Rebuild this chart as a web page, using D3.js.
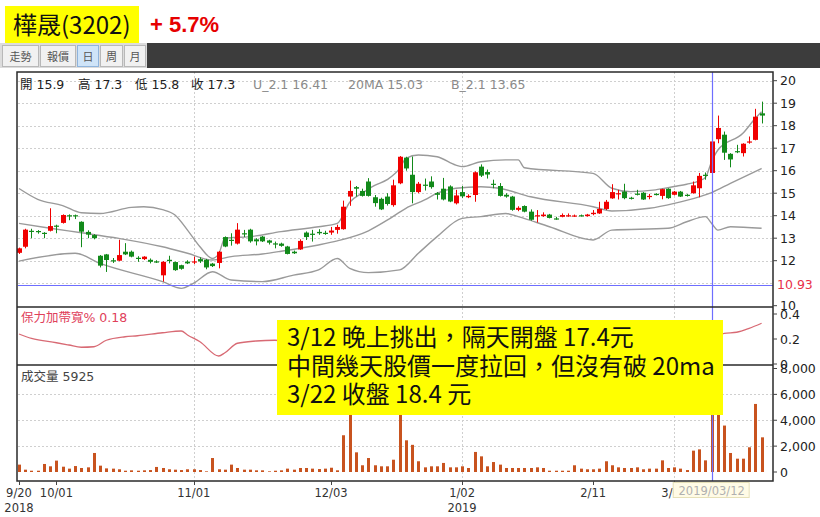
<!DOCTYPE html>
<html><head><meta charset="utf-8">
<script src="https://cdn.jsdelivr.net/npm/d3@7"></script>
<style>body{margin:0;background:#fff}svg{display:block}</style>
</head><body>
<svg id="c" width="820" height="517"></svg>
<script>
// ---------- DATA ----------
const dates = [
"2018/09/20","2018/09/21","2018/09/25","2018/09/26","2018/09/27","2018/09/28",
"2018/10/01","2018/10/02","2018/10/03","2018/10/04","2018/10/05","2018/10/08","2018/10/09","2018/10/11","2018/10/12","2018/10/15","2018/10/16","2018/10/17","2018/10/18","2018/10/19","2018/10/22","2018/10/23","2018/10/24","2018/10/25","2018/10/26","2018/10/29","2018/10/30","2018/10/31",
"2018/11/01","2018/11/02","2018/11/05","2018/11/06","2018/11/07","2018/11/08","2018/11/09","2018/11/12","2018/11/13","2018/11/14","2018/11/15","2018/11/16","2018/11/19","2018/11/20","2018/11/21","2018/11/22","2018/11/23","2018/11/26","2018/11/27","2018/11/28","2018/11/29","2018/11/30",
"2018/12/03","2018/12/04","2018/12/05","2018/12/06","2018/12/07","2018/12/10","2018/12/11","2018/12/12","2018/12/13","2018/12/14","2018/12/17","2018/12/18","2018/12/19","2018/12/20","2018/12/21","2018/12/22","2018/12/24","2018/12/25","2018/12/26","2018/12/27","2018/12/28",
"2019/01/02","2019/01/03","2019/01/04","2019/01/07","2019/01/08","2019/01/09","2019/01/10","2019/01/11","2019/01/14","2019/01/15","2019/01/16","2019/01/17","2019/01/18","2019/01/21","2019/01/22","2019/01/23","2019/01/24","2019/01/25","2019/01/28","2019/01/29","2019/01/30",
"2019/02/11","2019/02/12","2019/02/13","2019/02/14","2019/02/15","2019/02/18","2019/02/19","2019/02/20","2019/02/21","2019/02/22","2019/02/25","2019/02/26","2019/02/27",
"2019/03/04","2019/03/05","2019/03/06","2019/03/07","2019/03/08","2019/03/11","2019/03/12","2019/03/13","2019/03/14","2019/03/15","2019/03/18","2019/03/19","2019/03/20","2019/03/21","2019/03/22"];

const open = [12.35,12.62,13.33,13.32,13.24,13.33,13.56,13.68,14.02,14.02,13.73,13.28,13.14,12.22,12.28,12.02,12.0,12.4,12.4,12.13,
12.07,12.04,11.97,11.35,12.04,11.94,11.8,11.96,11.94,12.07,12.04,11.87,11.9,13.05,12.93,12.76,13.22,13.38,12.95,13.07,
12.9,12.77,12.76,12.63,12.4,12.5,13.25,13.2,13.28,13.24,13.25,13.37,13.4,14.85,15.27,15.1,15.52,14.82,14.75,14.85,
14.47,15.44,16.58,15.82,15.05,15.38,15.52,15.0,15.2,15.3,14.55,15.05,14.82,14.92,16.18,15.94,15.42,15.32,14.93,14.85,
14.26,14.43,14.18,13.98,13.98,14.05,13.88,13.95,13.98,13.97,14.02,13.98,14.07,14.1,14.3,14.77,14.97,15.07,14.8,14.98,
15.02,14.84,14.97,14.88,15.2,14.93,15.07,14.93,15.0,15.22,15.82,15.9,17.4,17.6,16.75,16.87,16.78,17.27,17.37,18.55];
const high = [12.58,13.42,13.42,13.36,13.27,14.33,13.6,14.06,14.06,14.05,13.75,13.35,13.18,12.25,12.3,12.12,12.93,12.78,12.45,12.2,
12.2,12.1,12.02,11.98,12.22,11.96,11.82,12.02,12.18,12.15,12.08,11.9,12.43,13.08,13.22,13.67,13.37,13.42,13.0,13.1,
12.93,12.85,12.8,12.66,12.45,12.95,13.3,13.37,13.4,13.33,13.5,13.6,14.67,15.56,15.32,15.2,15.67,14.92,14.8,15.0,
15.6,16.65,16.62,16.63,15.5,15.65,15.75,15.05,15.68,15.35,15.15,15.32,14.95,15.97,16.28,16.05,15.6,15.45,15.0,14.88,
14.42,14.46,14.28,14.25,14.15,14.08,13.95,14.1,14.1,14.05,14.05,14.08,14.25,14.62,14.7,15.4,15.15,15.42,14.84,15.15,
15.05,14.97,15.0,15.2,15.22,15.1,15.1,14.96,15.52,15.9,15.92,17.3,18.45,17.74,16.78,17.15,17.22,17.52,18.75,19.07];
const low = [12.3,12.55,13.0,13.2,13.0,13.3,13.22,13.65,13.8,13.85,12.6,13.0,12.95,11.7,11.5,11.9,11.98,12.25,12.15,11.95,
12.03,11.88,11.9,11.07,11.88,11.55,11.6,11.85,11.85,11.9,11.62,11.72,11.66,12.6,12.67,12.72,13.05,12.8,12.68,12.83,
12.72,12.55,12.62,12.28,12.3,12.48,12.92,12.85,13.15,13.15,13.15,13.2,13.38,14.44,14.85,14.85,14.85,14.4,14.25,14.45,
14.4,15.4,16.0,14.55,15.0,15.12,15.2,14.72,14.68,14.6,14.5,14.78,14.78,14.62,15.72,15.65,15.22,14.85,14.8,14.22,
14.2,14.15,13.78,13.7,13.95,13.88,13.82,13.93,13.95,13.95,13.96,13.96,14.02,14.08,14.25,14.75,14.72,14.73,14.72,14.9,
14.7,14.73,14.9,14.73,14.75,14.9,14.83,14.85,14.98,14.82,15.6,15.8,17.22,16.48,16.15,16.78,16.63,17.2,17.35,18.1];
const close = [12.55,13.38,13.29,13.29,13.2,13.54,13.52,14.03,13.98,13.98,13.29,13.16,13.0,11.78,12.03,11.99,12.25,12.28,12.18,12.1,
12.18,11.95,11.95,11.95,12.0,11.58,11.64,11.88,11.97,11.97,11.7,11.76,12.4,12.63,12.89,13.38,13.18,12.86,12.86,12.86,
12.8,12.73,12.66,12.3,12.33,12.88,13.05,13.17,13.22,13.21,13.34,13.5,14.4,15.1,15.2,14.88,14.88,14.56,14.28,14.52,
15.35,16.62,16.1,15.05,15.42,15.34,15.27,14.93,14.72,14.63,14.9,14.86,14.88,15.93,15.78,15.83,15.38,14.88,14.85,14.26,
14.35,14.18,13.82,14.02,14.05,13.9,13.85,14.03,14.02,14.01,13.98,14.05,14.13,14.3,14.62,15.05,15.0,14.78,14.75,14.94,
14.72,14.88,14.92,15.18,14.78,15.07,14.85,14.88,15.35,15.77,15.78,17.3,17.9,16.8,16.5,16.85,17.2,17.3,18.4,18.45];
const volume = [570,180,100,100,620,440,880,410,260,460,310,360,1470,490,280,260,210,100,130,100,
130,150,390,310,210,180,150,210,210,150,50,1080,210,180,570,310,180,180,130,130,
50,100,130,260,180,310,310,260,230,260,330,130,2840,5600,1520,520,1080,520,440,440,
950,5800,2450,2100,830,360,440,440,700,360,360,440,310,1550,1210,440,770,570,310,310,
310,310,310,360,310,100,100,100,100,520,260,210,210,260,830,520,360,310,310,360,
210,260,260,900,310,360,260,150,1650,1750,900,5925,5000,3590,1470,1030,1030,1910,5260,2680];

// Bollinger bands (2.1 sd) at these trading-day positions
const upperIdx = [0,3,7,10,13,18,20,23,25,27,29,31,32,33,37,42,48,51,53,55,57,59,61,62,64,67,70,71,74,78,80,81,92,95,98,102,105,107,109,110,111,112,116,118,119];
const upperVal = [15.21,14.73,14.45,14.13,14.1,14.37,14.4,14.27,14.03,13.36,12.62,12.1,12.3,13.0,13.07,13.29,13.51,13.66,14.6,15.0,15.35,15.6,16.1,16.55,16.7,16.62,16.25,16.18,16.4,16.48,16.48,16.13,15.88,15.22,15.07,15.15,15.3,15.4,15.55,15.7,16.41,16.92,17.66,18.33,18.62];
const midIdx = [0,5,10,16,23,27,31,34,39,42,48,51,56,59,62,65,67,70,74,77,82,92,95,101,105,109,111,114,119];
const midVal = [13.66,13.44,13.24,12.99,12.62,12.33,12.03,12.18,12.3,12.42,12.7,12.88,13.33,13.8,14.33,14.7,15.0,15.22,15.29,15.22,14.84,14.4,14.21,14.33,14.55,14.84,15.03,15.44,16.1];
const lowIdx = [0,9,13,23,26,28,31,34,39,44,48,51,53,56,61,64,67,71,74,78,80,85,92,95,104,107,110,111,112,114,119];
const lowVal = [11.98,12.33,11.88,11.07,10.77,11.0,11.51,11.14,11.07,11.36,11.59,12.1,11.66,11.47,11.59,12.33,13.07,13.88,13.96,14.1,13.96,13.51,12.92,13.36,13.44,13.73,13.96,13.65,13.36,13.51,13.44];
// Bandwidth %
const bwIdx = [0,2,6,8,10,12,14,17,19,23,26,27,29,32,33,35,38,41,46,51,53,56,59,62,65,70,75,80,86,92,96,101,106,110,111,113,115,117,119];
const bwVal = [0.24,0.205,0.17,0.152,0.134,0.138,0.19,0.218,0.226,0.25,0.264,0.232,0.178,0.064,0.09,0.166,0.184,0.19,0.16,0.13,0.2,0.27,0.3,0.31,0.27,0.21,0.17,0.17,0.19,0.2,0.16,0.12,0.12,0.12,0.18,0.245,0.254,0.285,0.326];

const priceTicks = [12,13,14,15,16,17,18,19,20,10];
const priceGrid = [11,12,13,14,15,16,17,18,19,20];
const bwTicks = [0.4,0.2,0];
const volTicks = [8000,6000,4000,2000,0];
const volGrid = [2000,4000,6000];
const xTickDates = ["2018/09/20","2018/10/01","2018/11/01","2018/12/03","2019/01/02","2019/02/11","2019/03/04"];
const xTickLabels = ["9/20","10/01","11/01","12/03","1/02","2/11","3/04"];
const yearDates = ["2018/09/20","2019/01/02"];
const yearLabels = ["2018","2019"];
const vGridDates = ["2018/11/01","2019/01/02","2019/03/04"];
const cursorDate = "2019/03/12";
const cursorPrice = 10.93;
const headerOHLC = ["開 15.9","高 17.3","低 15.8","收 17.3"];
const headerBands = ["U_2.1 16.41","20MA 15.03","B_2.1 13.65"];
const stockTitle = "樺晟(3202)";
const changeText = "+ 5.7%";
const tabs = ["走勢","報價","日","周","月"];
const noteLines = ["3/12 晚上挑出，隔天開盤 17.4元","中間幾天股價一度拉回，但沒有破 20ma","3/22 收盤 18.4 元"];

// ---------- DRAW ----------
const svg = d3.select("#c");
const L = 18, R = 773, T = 72, P1 = 307, P2 = 365, B = 481;
const FONT = "'DejaVu Sans','Noto Sans CJK TC',sans-serif";
const CJK = "'Noto Sans CJK TC','Noto Sans',sans-serif";
const RED = "#f00000", GREEN = "#128a1a", BLUE = "#6e6eff";

const x = d3.scalePoint().domain(dates).range([19, 761.6]);
const xi = i => x(dates[i]);
const yP = d3.scaleLinear().domain([10, 20]).range([305.7, 80.7]);
const yBW = d3.scaleLinear().domain([0, 0.4]).range([364, 314]);
const yV = d3.scaleLinear().domain([0, 8000]).range([472, 368.5]);

// title area
svg.append("rect").attr("x",5).attr("y",6).attr("width",134).attr("height",37).attr("fill","#ffff00");
svg.append("text").attr("x",13).attr("y",34).attr("font-family",CJK).attr("font-size",24).attr("fill","#111").text(stockTitle);
svg.append("text").attr("x",150).attr("y",32).attr("font-family","'Liberation Sans',Arial,sans-serif").attr("font-weight","bold").attr("font-size",22).attr("fill","#e60000").text(changeText);

// toolbar
svg.append("rect").attr("x",0).attr("y",43).attr("width",147).attr("height",25).attr("fill","#dcdcdc");
svg.append("rect").attr("x",147).attr("y",43).attr("width",673).attr("height",25).attr("fill","#3c3c3c");
const tabX = [2,40,77,100,124], tabW = [36,35,21,22,21];
tabs.forEach((t,k)=>{
  const sel = k===2;
  svg.append("rect").attr("x",tabX[k]+0.5).attr("y",45.5).attr("width",tabW[k]).attr("height",21)
    .attr("fill", sel?"#cfe4f8":"#f1f1f1").attr("stroke", sel?"#8fb4dc":"#b8b8b8");
  svg.append("text").attr("x",tabX[k]+tabW[k]/2+0.5).attr("y",61).attr("text-anchor","middle")
    .attr("font-family",CJK).attr("font-size",11).attr("fill","#555").text(t);
});

// grids
const g = svg.append("g");
g.selectAll(".hg").data(priceGrid).join("line").attr("x1",L).attr("x2",R)
  .attr("y1",d=>Math.round(yP(d))+0.5).attr("y2",d=>Math.round(yP(d))+0.5)
  .attr("stroke","#cfcfcf").attr("stroke-dasharray","2,2");
g.selectAll(".vg").data(volGrid).join("line").attr("x1",L).attr("x2",R)
  .attr("y1",d=>Math.round(yV(d))+0.5).attr("y2",d=>Math.round(yV(d))+0.5)
  .attr("stroke","#cfcfcf").attr("stroke-dasharray","2,2");
g.selectAll(".xg").data(vGridDates).join("line").attr("y1",T).attr("y2",B)
  .attr("x1",d=>Math.round(x(d))+0.5).attr("x2",d=>Math.round(x(d))+0.5)
  .attr("stroke","#cfcfcf").attr("stroke-dasharray","2,2");

// bands
const bandLine = (idx, val) => d3.line().x((d,k)=>xi(idx[k])).y(d=>yP(d)).curve(d3.curveMonotoneX)(val);
[[upperIdx,upperVal],[midIdx,midVal],[lowIdx,lowVal]].forEach(([a,b])=>{
  svg.append("path").attr("d",bandLine(a,b)).attr("fill","none").attr("stroke","#9a9a9a").attr("stroke-width",1.4);
});

// candles
const cg = svg.append("g");
dates.forEach((d,i)=>{
  const up = close[i] >= open[i];
  const col = up ? RED : GREEN;
  const cx = Math.round(x(d)) + 0.5;
  cg.append("line").attr("x1",cx).attr("x2",cx).attr("y1",yP(high[i])).attr("y2",yP(low[i])).attr("stroke",col).attr("stroke-width",1);
  const y0 = yP(Math.max(open[i],close[i])), y1 = yP(Math.min(open[i],close[i]));
  cg.append("rect").attr("x",cx-2.5).attr("y",y0).attr("width",5).attr("height",Math.max(1.2,y1-y0)).attr("fill",col);
});

// bandwidth line
svg.append("path").attr("d", d3.line().x((d,k)=>xi(bwIdx[k])).y(d=>yBW(d)).curve(d3.curveMonotoneX)(bwVal))
  .attr("fill","none").attr("stroke","#d86a74").attr("stroke-width",1.3);

// volume bars
svg.append("g").selectAll("rect").data(volume).join("rect")
  .attr("x",(d,i)=>Math.round(xi(i))-1).attr("width",3)
  .attr("y",d=>yV(d)).attr("height",d=>yV(0)-yV(d)).attr("fill","#c8531f");

// cursor lines
svg.append("line").attr("x1",L).attr("x2",R).attr("y1",Math.round(yP(cursorPrice))+0.5).attr("y2",Math.round(yP(cursorPrice))+0.5).attr("stroke",BLUE).attr("stroke-width",1.2);
svg.append("line").attr("x1",Math.round(x(cursorDate))+0.5).attr("x2",Math.round(x(cursorDate))+0.5).attr("y1",T).attr("y2",B).attr("stroke",BLUE).attr("stroke-width",1.2);

// frame
const fr = svg.append("g").attr("stroke","#2a2a2a").attr("fill","none");
fr.append("rect").attr("x",L-1).attr("y",T).attr("width",R-L+1).attr("height",B-T).attr("stroke-width",1.5);
fr.append("line").attr("x1",L-1).attr("x2",R).attr("y1",P1).attr("y2",P1).attr("stroke-width",1.5);
fr.append("line").attr("x1",L-1).attr("x2",R).attr("y1",P2).attr("y2",P2).attr("stroke-width",1.5);

// right axes
const ax = svg.append("g").attr("font-family",FONT).attr("font-size",12.5).attr("fill","#222");
const rTick = (yy)=> svg.append("line").attr("x1",R).attr("x2",R+4).attr("y1",yy).attr("y2",yy).attr("stroke","#444");
priceTicks.forEach(v=>{ rTick(yP(v)); ax.append("text").attr("x",780).attr("y",yP(v)+4.5).text(v); });
bwTicks.forEach(v=>{ rTick(yBW(v)); ax.append("text").attr("x",780).attr("y",yBW(v)+4.5).text(v); });
volTicks.forEach(v=>{ rTick(yV(v)); ax.append("text").attr("x",780).attr("y",yV(v)+4.5).text(d3.format(",")(v)); });
svg.append("rect").attr("x",775).attr("y",yP(cursorPrice)-8).attr("width",44).attr("height",15).attr("fill","#fff");
svg.append("text").attr("x",777).attr("y",yP(cursorPrice)+4.5).attr("font-family",FONT).attr("font-size",12.5).attr("fill","#e8304a").text(cursorPrice.toFixed(2));

// x axis
const xa = svg.append("g").attr("font-family",FONT).attr("font-size",11.5).attr("fill","#333").attr("text-anchor","middle");
xTickDates.forEach((d,k)=>{
  svg.append("line").attr("x1",Math.round(x(d))+0.5).attr("x2",Math.round(x(d))+0.5).attr("y1",B).attr("y2",B+4).attr("stroke","#444");
  xa.append("text").attr("x",x(d)).attr("y",497).text(xTickLabels[k]);
});
yearDates.forEach((d,k)=> xa.append("text").attr("x",x(d)).attr("y",512).text(yearLabels[k]));

// tooltip
const cxp = x(cursorDate);
svg.append("rect").attr("x",cxp-38.5).attr("y",482.5).attr("width",76).attr("height",15).attr("fill","#fffbe6").attr("stroke","#e6e0b8");
svg.append("text").attr("x",cxp).attr("y",494.5).attr("text-anchor","middle").attr("font-family",FONT).attr("font-size",11.5).attr("fill","#b0b0b0").text(cursorDate);

// panel headers
const hx = [20,78,135,191], bx = [253,348,451];
headerOHLC.forEach((t,k)=> svg.append("text").attr("x",hx[k]).attr("y",89).attr("font-family",FONT).attr("font-size",12.5).attr("fill","#222").text(t));
headerBands.forEach((t,k)=> svg.append("text").attr("x",bx[k]).attr("y",89).attr("font-family",FONT).attr("font-size",12.5).attr("fill","#8a8a8a").text(t));
svg.append("text").attr("x",21).attr("y",322).attr("font-family",FONT).attr("font-size",12.5).attr("fill","#e0405a").text("保力加帶寬% " + bwVal[bwIdx.indexOf(dates.indexOf(cursorDate))].toFixed(2));
svg.append("text").attr("x",21).attr("y",381).attr("font-family",FONT).attr("font-size",12.5).attr("fill","#444").text("成交量 " + volume[dates.indexOf(cursorDate)]);

// annotation
svg.append("rect").attr("x",277).attr("y",320).attr("width",446).attr("height",95).attr("fill","#ffff00");
noteLines.forEach((t,k)=> svg.append("text").attr("x",287).attr("y",346+k*28.5).attr("font-family",CJK).attr("font-size",24).attr("fill","#111").text(t));
</script>
</body></html>
